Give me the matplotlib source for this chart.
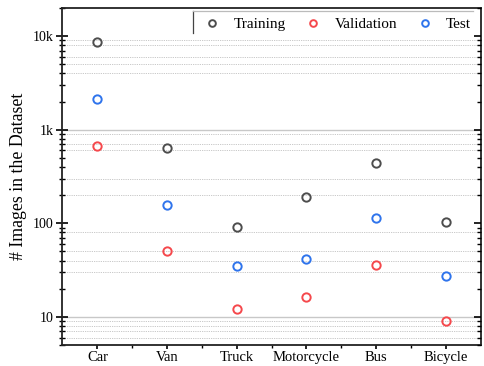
import matplotlib
matplotlib.use('Agg')
import matplotlib.pyplot as plt
from matplotlib.lines import Line2D
from matplotlib.ticker import FixedLocator, FixedFormatter, NullFormatter

plt.rcParams['font.family'] = ['Liberation Serif', 'DejaVu Serif']

categories = ['Car', 'Van', 'Truck', 'Motorcycle', 'Bus', 'Bicycle']
training = [8630, 637, 91, 193, 444, 102]
validation = [674, 51, 12.2, 16.3, 36, 9.1]
test = [2118, 157, 35, 42, 113, 27]

ytick_vals = [10, 100, 1000, 10000]
ytick_labels = ['10', '100', '1k', '10k']
solid_grid = [10, 1000]
dotted_grid = [9000, 8000, 6000, 5000, 4000, 900, 700, 600, 300, 200,
               80, 50, 40, 30, 9, 8, 7, 6]

fig = plt.figure(figsize=(4.84, 3.66), dpi=100)
ax = fig.add_axes([62 / 484, 1 - 345 / 366, 419 / 484, 337 / 366])

x = list(range(len(categories)))

# grid lines
for v in solid_grid:
    ax.axhline(v, color='#c8c8c8', lw=1.0, zorder=0)
for v in dotted_grid:
    ax.axhline(v, color='#c2c2c2', lw=0.6, ls=(0, (1.5, 1.2)), zorder=0)

ms = 6
mew = 1.4
ax.plot(x, training, ls='none', marker='o', ms=ms, mfc='none', mec='#4d4d4d', mew=mew, label='Training')
ax.plot(x, validation, ls='none', marker='o', ms=ms, mfc='none', mec='#f5484c', mew=mew, label='Validation')
ax.plot(x, test, ls='none', marker='o', ms=ms, mfc='none', mec='#2f74ec', mew=mew, label='Test')

ax.set_yscale('log')
ax.set_ylim(5, 20000)
ax.set_xlim(-0.51, 5.51)

ax.yaxis.set_major_locator(FixedLocator(ytick_vals))
ax.yaxis.set_major_formatter(FixedFormatter(ytick_labels))
minor = [m * 10 ** e for e in range(0, 5) for m in range(2, 10) if 5 <= m * 10 ** e <= 20000]
ax.yaxis.set_minor_locator(FixedLocator(minor))
ax.yaxis.set_minor_formatter(NullFormatter())

ax.set_xticks(x)
ax.set_xticklabels(categories)
ax.set_xticks([i + 0.5 for i in x[:-1]], minor=True)

ax.tick_params(axis='y', which='major', direction='inout', length=8, width=1.2, labelsize=10, pad=2)
ax.tick_params(axis='y', which='minor', direction='inout', length=5, width=1.0)
ax.tick_params(axis='x', which='major', direction='out', length=3, width=1.2, labelsize=10.5, pad=1)
ax.tick_params(axis='x', which='minor', direction='out', length=2.5, width=1.0)

for s in ax.spines.values():
    s.set_linewidth(1.3)
    s.set_color('#222222')

# right-side ticks pointing inward
ax2 = ax.twinx()
ax2.set_yscale('log')
ax2.set_ylim(ax.get_ylim())
ax2.yaxis.set_major_locator(FixedLocator(ytick_vals))
ax2.yaxis.set_minor_locator(FixedLocator(minor))
ax2.yaxis.set_major_formatter(NullFormatter())
ax2.yaxis.set_minor_formatter(NullFormatter())
ax2.tick_params(axis='y', which='major', direction='in', length=5, width=1.2)
ax2.tick_params(axis='y', which='minor', direction='in', length=3, width=1.0)
for s in ax2.spines.values():
    s.set_visible(False)

ax.set_ylabel('# Images in the Dataset', fontsize=12.8, labelpad=4)

leg = ax.legend(loc='upper left', bbox_to_anchor=(0.315, 1.0), ncol=3, frameon=False,
                fontsize=11, handletextpad=0.8, columnspacing=1.2, handlelength=1.2,
                borderaxespad=0.2, markerscale=0.8)

# partial legend frame
ax.add_line(Line2D([0.3126, 0.3126], [0.926, 0.991], transform=ax.transAxes,
                   color='#444444', lw=0.9, clip_on=False))
ax.add_line(Line2D([0.3126, 0.981], [0.991, 0.991], transform=ax.transAxes,
                   color='#bbbbbb', lw=0.9, clip_on=False))

fig.savefig('out.png', dpi=100)
